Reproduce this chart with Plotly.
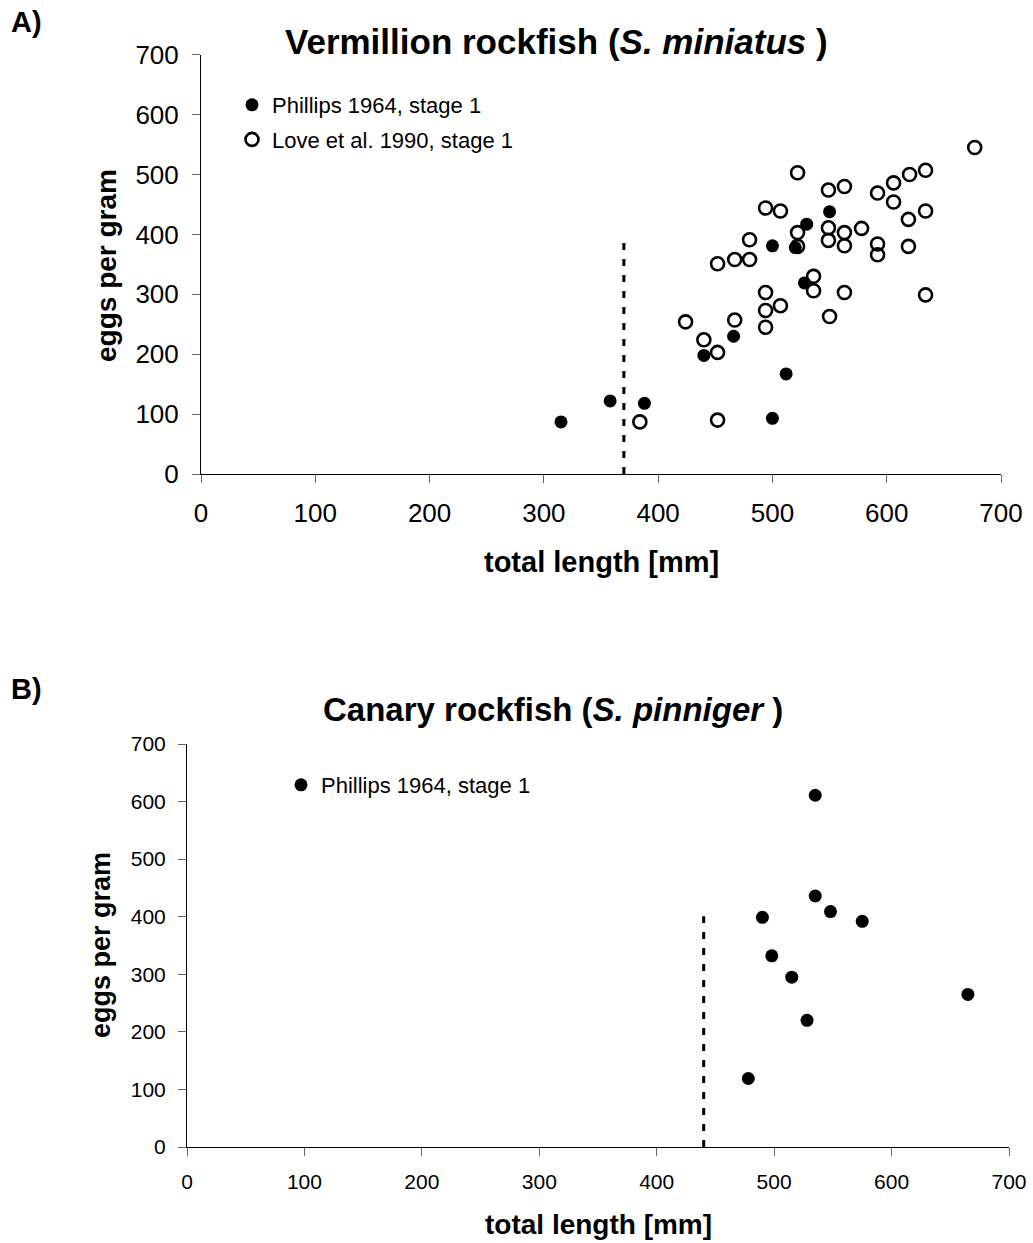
import plotly.graph_objects as go

W, H = 1033, 1243
FONT = "Liberation Sans, Arial, sans-serif"

# ---------------- Data: Panel A (Vermillion rockfish) ----------------
phillips_a_length = [315, 358, 388, 440, 466, 500, 512, 500, 520, 528, 530, 550]
phillips_a_eggs = [87, 122, 118, 198, 230, 93, 167, 381, 378, 319, 417, 438]

love_a_length = [384, 424, 440, 452, 452, 452,
                 677, 522, 634, 620, 606, 592, 606, 549, 563, 494, 507, 634, 619,
                 522, 549, 563, 578, 480, 522, 549, 563, 592, 592, 619, 467, 480,
                 536, 536, 563, 634, 494, 494, 507, 494, 550, 467]
love_a_eggs = [87, 254, 224, 351, 203, 90,
               545, 503, 507, 500, 486, 469, 454, 474, 480, 444, 439, 439, 425,
               403, 411, 403, 410, 391, 380, 390, 381, 384, 366, 380, 358, 358,
               330, 306, 303, 299, 303, 273, 281, 245, 263, 257]

maturity_a_length = [370, 370]
maturity_a_eggs = [0, 388]

# ---------------- Data: Panel B (Canary rockfish) ----------------
phillips_b_length = [478, 490, 498, 515, 528, 535, 535, 548, 575, 665]
phillips_b_eggs = [119, 399, 332, 295, 220, 611, 436, 409, 392, 265]

maturity_b_length = [440, 440]
maturity_b_eggs = [0, 401]

axis_ticks = [0, 100, 200, 300, 400, 500, 600, 700]

fig = go.Figure()

# Panel A
fig.add_trace(go.Scatter(
    x=maturity_a_length, y=maturity_a_eggs, mode="lines",
    line=dict(color="black", width=3, dash="7px,9px"),
    showlegend=False, xaxis="x", yaxis="y", hoverinfo="skip"))
fig.add_trace(go.Scatter(
    x=phillips_a_length, y=phillips_a_eggs, mode="markers",
    name="Phillips 1964, stage 1", legendgroup="a1",
    marker=dict(symbol="circle", size=13, color="black"),
    xaxis="x", yaxis="y", legend="legend"))
fig.add_trace(go.Scatter(
    x=love_a_length, y=love_a_eggs, mode="markers",
    name="Love et al. 1990, stage 1", legendgroup="a2",
    marker=dict(symbol="circle-open", size=13, color="black",
                line=dict(width=2.6, color="black")),
    xaxis="x", yaxis="y", legend="legend"))

# Panel B
fig.add_trace(go.Scatter(
    x=maturity_b_length, y=maturity_b_eggs, mode="lines",
    line=dict(color="black", width=3, dash="7px,9px"),
    showlegend=False, xaxis="x2", yaxis="y2", hoverinfo="skip"))
fig.add_trace(go.Scatter(
    x=phillips_b_length, y=phillips_b_eggs, mode="markers",
    name="Phillips 1964, stage 1",
    marker=dict(symbol="circle", size=13, color="black"),
    xaxis="x2", yaxis="y2", legend="legend2"))


def axis(domain, anchor, tsize, standoff):
    return dict(
        domain=domain, anchor=anchor, range=[0, 700],
        tickvals=axis_ticks, ticktext=[str(t) for t in axis_ticks],
        showgrid=False, zeroline=False, showline=True,
        linecolor="black", linewidth=1, automargin=False,
        ticks="outside", ticklen=8, tickcolor="#666666", tickwidth=1,
        tickfont=dict(family=FONT, size=tsize, color="black"),
        ticklabelstandoff=standoff, fixedrange=True)


fig.update_layout(
    template="none",
    width=W, height=H,
    margin=dict(l=0, r=0, t=0, b=0, pad=0),
    paper_bgcolor="white", plot_bgcolor="white",
    font=dict(family=FONT, color="black"),
    xaxis=axis([201 / W, 1001 / W], "y", 26, 8),
    yaxis=axis([1 - 474 / H, 1 - 54.7 / H], "x", 26, 8),
    xaxis2=axis([187 / W, 1009 / W], "y2", 21, 8),
    yaxis2=axis([1 - 1147 / H, 1 - 744 / H], "x2", 21, 8),
    legend=dict(x=232 / W, y=1 - 84 / H, xanchor="left", yanchor="top",
                font=dict(family=FONT, size=22, color="black"),
                bgcolor="rgba(0,0,0,0)", borderwidth=0, tracegroupgap=3,
                itemwidth=30),
    legend2=dict(x=281 / W, y=1 - 764 / H, xanchor="left", yanchor="top",
                 font=dict(family=FONT, size=22, color="black"),
                 bgcolor="rgba(0,0,0,0)", borderwidth=0, itemwidth=30),
    showlegend=True,
)

ann = [
    dict(text="<b>A)</b>", x=9 / W, y=1 - 22 / H, xanchor="left", yanchor="middle",
         font=dict(size=29)),
    dict(text="<b>Vermillion rockfish (<i>S. miniatus</i> )</b>", x=556 / W, y=1 - 41 / H,
         xanchor="center", yanchor="middle", font=dict(size=35)),
    dict(text="<b>total length [mm]</b>", x=601 / W, y=1 - 562 / H,
         xanchor="center", yanchor="middle", font=dict(size=29)),
    dict(text="<b>eggs per gram</b>", x=106 / W, y=1 - 266 / H, textangle=-90,
         xanchor="center", yanchor="middle", font=dict(size=28)),
    dict(text="<b>B)</b>", x=9 / W, y=1 - 689 / H, xanchor="left", yanchor="middle",
         font=dict(size=29)),
    dict(text="<b>Canary rockfish (<i>S. pinniger</i> )</b>", x=553 / W, y=1 - 709 / H,
         xanchor="center", yanchor="middle", font=dict(size=33)),
    dict(text="<b>total length [mm]</b>", x=598 / W, y=1 - 1224 / H,
         xanchor="center", yanchor="middle", font=dict(size=28)),
    dict(text="<b>eggs per gram</b>", x=101 / W, y=1 - 945 / H, textangle=-90,
         xanchor="center", yanchor="middle", font=dict(size=27)),
]
for a in ann:
    a.update(xref="paper", yref="paper", showarrow=False)
    a["font"].update(family=FONT, color="black")
fig.update_layout(annotations=ann)

fig.write_html("out.html")
